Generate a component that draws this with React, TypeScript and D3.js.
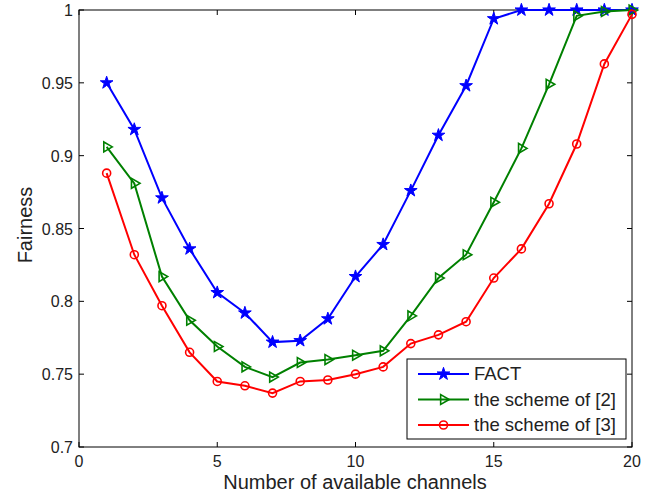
import React, { useEffect, useRef } from 'react';
import * as d3 from 'd3';

const channels = d3.range(1, 21);
const fact = [0.950, 0.918, 0.871, 0.836, 0.806, 0.792, 0.772, 0.773, 0.788, 0.817, 0.839, 0.876, 0.914, 0.948, 0.994, 1.0, 1.0, 1.0, 1.0, 1.0];
const scheme2 = [0.906, 0.881, 0.817, 0.787, 0.769, 0.755, 0.748, 0.758, 0.760, 0.763, 0.766, 0.790, 0.816, 0.832, 0.868, 0.905, 0.949, 0.996, 0.999, 1.0];
const scheme3 = [0.888, 0.832, 0.797, 0.765, 0.745, 0.742, 0.737, 0.745, 0.746, 0.750, 0.755, 0.771, 0.777, 0.786, 0.816, 0.836, 0.867, 0.908, 0.963, 0.997];
const xTicks = [0, 5, 10, 15, 20];
const yTicks = [0.7, 0.75, 0.8, 0.85, 0.9, 0.95, 1];

const seriesNames = ['FACT', 'the scheme of [2]', 'the scheme of [3]'];
const seriesColors = ['#0000ff', '#008000', '#ff0000'];
const seriesMarkers = ['star', 'tri', 'circle'];

function drawMarker(g: any, kind: string, color: string, x: number, y: number) {
  if (kind === 'star') {
    g.append('path')
      .attr('d', d3.symbol(d3.symbolStar, 50)())
      .attr('transform', `translate(${x},${y})`)
      .attr('fill', color)
      .attr('stroke', color)
      .attr('stroke-width', 1);
  } else if (kind === 'tri') {
    g.append('path')
      .attr('d', d3.symbol(d3.symbolTriangle, 42)())
      .attr('transform', `translate(${x},${y}) rotate(90)`)
      .attr('fill', 'none')
      .attr('stroke', color)
      .attr('stroke-width', 1.6);
  } else {
    g.append('circle')
      .attr('cx', x).attr('cy', y).attr('r', 4)
      .attr('fill', 'none')
      .attr('stroke', color)
      .attr('stroke-width', 1.6);
  }
}

export default function App() {
  const ref = useRef<SVGSVGElement>(null);

  useEffect(() => {
    const svg = d3.select(ref.current);
    svg.selectAll('*').remove();
    const left = 79, right = 632, top = 10, bottom = 447;
    const x = d3.scaleLinear().domain([0, 20]).range([left, right]);
    const y = d3.scaleLinear().domain([0.7, 1]).range([bottom, top]);
    const font = 'Liberation Sans, Arial, sans-serif';

    svg.append('rect').attr('x', 0).attr('y', 0).attr('width', 654).attr('height', 503).attr('fill', '#fff');

    const axes = svg.append('g').attr('stroke', '#000').attr('stroke-width', 1);
    axes.append('rect')
      .attr('x', left).attr('y', top).attr('width', right - left).attr('height', bottom - top)
      .attr('fill', 'none');
    const tl = 5;
    xTicks.forEach((t) => {
      axes.append('line').attr('x1', x(t)).attr('x2', x(t)).attr('y1', bottom).attr('y2', bottom - tl);
      axes.append('line').attr('x1', x(t)).attr('x2', x(t)).attr('y1', top).attr('y2', top + tl);
    });
    yTicks.forEach((t) => {
      axes.append('line').attr('x1', left).attr('x2', left + tl).attr('y1', y(t)).attr('y2', y(t));
      axes.append('line').attr('x1', right).attr('x2', right - tl).attr('y1', y(t)).attr('y2', y(t));
    });

    const labels = svg.append('g').attr('font-family', font).attr('font-size', 16).attr('fill', '#222');
    xTicks.forEach((t) => {
      labels.append('text').attr('x', x(t)).attr('y', bottom + 20).attr('text-anchor', 'middle').text(String(t));
    });
    yTicks.forEach((t) => {
      labels.append('text').attr('x', left - 6).attr('y', y(t) + 6).attr('text-anchor', 'end').text(String(t));
    });
    svg.append('text').attr('x', 355).attr('y', 489).attr('text-anchor', 'middle')
      .attr('font-family', font).attr('font-size', 20).attr('fill', '#222')
      .text('Number of available channels');
    svg.append('text').attr('transform', `translate(32,225) rotate(-90)`).attr('text-anchor', 'middle')
      .attr('font-family', font).attr('font-size', 20).attr('fill', '#222')
      .text('Fairness');

    const allSeries = [fact, scheme2, scheme3];
    const line = d3.line<number>().x((d, i) => x(channels[i])).y((d) => y(d));
    allSeries.forEach((vals, k) => {
      const g = svg.append('g');
      g.append('path').datum(vals).attr('d', line).attr('fill', 'none')
        .attr('stroke', seriesColors[k]).attr('stroke-width', 2);
      vals.forEach((v, i) => drawMarker(g, seriesMarkers[k], seriesColors[k], x(channels[i]), y(v)));
    });

    // legend
    const lg = svg.append('g');
    lg.append('rect').attr('x', 407).attr('y', 359).attr('width', 219).attr('height', 80)
      .attr('fill', '#fff').attr('stroke', '#000').attr('stroke-width', 1);
    seriesNames.forEach((name, k) => {
      const yy = 374 + k * 25.5;
      lg.append('line').attr('x1', 418).attr('x2', 469).attr('y1', yy).attr('y2', yy)
        .attr('stroke', seriesColors[k]).attr('stroke-width', 2);
      drawMarker(lg, seriesMarkers[k], seriesColors[k], 443.5, yy);
      lg.append('text').attr('x', 474).attr('y', yy + 6).attr('font-family', font).attr('font-size', 18.5)
        .attr('fill', '#222').text(name);
    });
  }, []);

  return <svg ref={ref} width={654} height={503} style={{ display: 'block', position: 'absolute', left: 0, top: 0 }} />;
}
